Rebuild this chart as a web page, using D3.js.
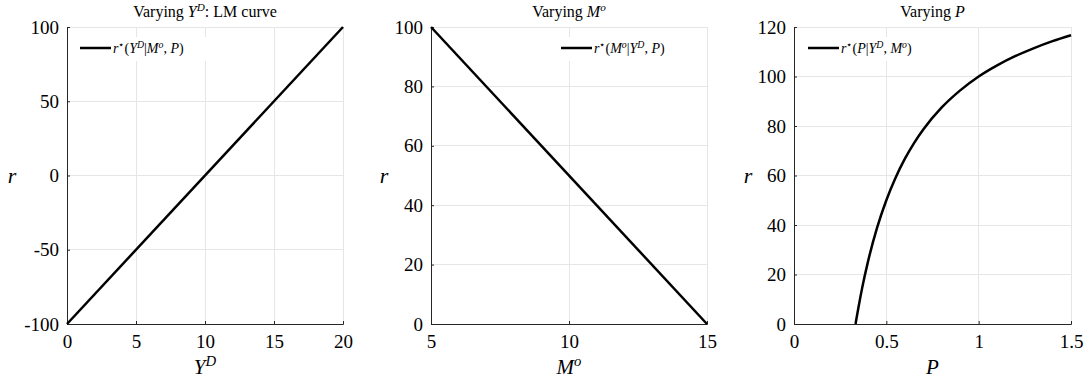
<!DOCTYPE html>
<html><head><meta charset="utf-8">
<script src="https://cdn.jsdelivr.net/npm/d3@7"></script>
<style>
body{margin:0;background:#fff;}
svg{display:block;}
</style></head>
<body><svg id="c" width="1086" height="381" font-family="Liberation Serif"></svg>
<script>
// ---- data ----
const yd = [0, 20];
const rYD = [-100, 100];
const mo = [5, 15];
const rMO = [100, 0];
const pVals = [0.3333, 0.34, 0.35, 0.37, 0.4, 0.45, 0.5, 0.55, 0.6, 0.65, 0.7, 0.8, 0.9, 1.0, 1.1, 1.2, 1.3, 1.4, 1.5];
const rP   = [0, 2.9, 7.1, 14.9, 25, 38.9, 50, 59.1, 66.7, 73.1, 78.6, 87.5, 94.4, 100, 104.5, 108.3, 111.5, 114.3, 116.7];
const xTicks1 = [0, 5, 10, 15, 20];
const yTicks1 = [-100, -50, 0, 50, 100];
const xTicks2 = [5, 10, 15];
const yTicks2 = [0, 20, 40, 60, 80, 100];
const xTicks3 = [0, 0.5, 1, 1.5];
const yTicks3 = [0, 20, 40, 60, 80, 100, 120];

const FONT = "Liberation Serif";
const svg = d3.select("#c");
const plotTop = 27, plotBottom = 324;

function rich(sel, parts, size) {
  sel.attr("font-family", FONT).attr("font-size", size).attr("fill", "#000");
  parts.forEach(([t, k]) => {
    const ts = sel.append("tspan").text(t);
    if (k === 'i' || k === 'sup') ts.attr("font-style", "italic");
    if (k === 'sup' || k === 'supn') {
      ts.attr("font-size", size * 0.7).attr("baseline-shift", "super");
    }
  });
}

function panel(cfg) {
  const x = d3.scaleLinear().domain(cfg.xd).range([cfg.x0, cfg.x1]);
  const y = d3.scaleLinear().domain(cfg.yd).range([plotBottom, plotTop]);
  const g = svg.append("g");
  g.selectAll(".gx").data(cfg.xt).enter().append("line")
    .attr("x1", d => x(d)).attr("x2", d => x(d)).attr("y1", plotTop).attr("y2", plotBottom)
    .attr("stroke", "#e6e6e6").attr("stroke-width", 1).attr("shape-rendering","crispEdges");
  g.selectAll(".gy").data(cfg.yt).enter().append("line")
    .attr("y1", d => y(d)).attr("y2", d => y(d)).attr("x1", cfg.x0).attr("x2", cfg.x1)
    .attr("stroke", "#e6e6e6").attr("stroke-width", 1).attr("shape-rendering","crispEdges");
  const ax = g.append("g").attr("transform", `translate(0,${plotBottom})`)
    .call(d3.axisBottom(x).tickValues(cfg.xt).tickSize(-3).tickPadding(9).tickFormat(d => String(d)));
  const ay = g.append("g").attr("transform", `translate(${cfg.x0},0)`)
    .call(d3.axisLeft(y).tickValues(cfg.yt).tickSize(-3).tickPadding(8).tickFormat(d => String(d)));
  [ax, ay].forEach(a => {
    a.attr("font-family", FONT).attr("font-size", 19);
    a.select(".domain").attr("stroke", "#262626").attr("stroke-width", 1);
    a.selectAll(".tick line").attr("stroke", "#262626");
    a.selectAll(".tick text").attr("font-family", FONT).attr("font-size", 19).attr("fill", "#000");
  });
  ax.selectAll(".tick text").attr("dy", "0.8em");
  g.append("rect").attr("x", cfg.lx - 6).attr("y", plotTop + 10).attr("width", cfg.lw).attr("height", 24).attr("fill", "#fff");
  const line = d3.line().x(d => x(d[0])).y(d => y(d[1])).curve(d3.curveMonotoneX);
  g.append("path").datum(cfg.xs.map((v, i) => [v, cfg.ys[i]]))
    .attr("d", line).attr("fill", "none").attr("stroke", "#000").attr("stroke-width", 2.5);
  g.append("line").attr("x1", cfg.lx).attr("x2", cfg.lx + 31).attr("y1", 48).attr("y2", 48)
    .attr("stroke", "#000").attr("stroke-width", 2.5);
  const lt = g.append("text").attr("x", cfg.lx + 33).attr("y", 53);
  rich(lt, cfg.leg, 14);
  const tt = g.append("text").attr("x", (cfg.x0 + cfg.x1) / 2).attr("y", 17).attr("text-anchor", "middle");
  rich(tt, cfg.title, 16);
  const xl = g.append("text").attr("x", (cfg.x0 + cfg.x1) / 2).attr("y", 374).attr("text-anchor", "middle");
  rich(xl, cfg.xl, 21);
  const yl = g.append("text").attr("x", cfg.ylX).attr("y", 183).attr("text-anchor", "middle");
  rich(yl, [["r", "i"]], 22);
}

panel({xd: yd, yd: [-100, 100], x0: 67, x1: 343, xt: xTicks1, yt: yTicks1, xs: yd, ys: rYD,
  lx: 80, lw: 145,
  leg: [["r", "i"], ["⋆", "supn"], ["(", "n"], ["Y", "i"], ["D", "sup"], ["|", "n"], ["M", "i"], ["o", "sup"], [", ", "n"], ["P", "i"], [")", "n"]],
  title: [["Varying ", "n"], ["Y", "i"], ["D", "sup"], [": LM curve", "n"]],
  xl: [["Y", "i"], ["D", "sup"]], ylX: 12});
panel({xd: mo, yd: [0, 100], x0: 431, x1: 707, xt: xTicks2, yt: yTicks2, xs: mo, ys: rMO,
  lx: 561, lw: 148,
  leg: [["r", "i"], ["⋆", "supn"], ["(", "n"], ["M", "i"], ["o", "sup"], ["|", "n"], ["Y", "i"], ["D", "sup"], [", ", "n"], ["P", "i"], [")", "n"]],
  title: [["Varying ", "n"], ["M", "i"], ["o", "sup"]],
  xl: [["M", "i"], ["o", "sup"]], ylX: 384});
panel({xd: [0, 1.5], yd: [0, 120], x0: 794, x1: 1071, xt: xTicks3, yt: yTicks3, xs: pVals, ys: rP,
  lx: 808, lw: 142,
  leg: [["r", "i"], ["⋆", "supn"], ["(", "n"], ["P", "i"], ["|", "n"], ["Y", "i"], ["D", "sup"], [", ", "n"], ["M", "i"], ["o", "sup"], [")", "n"]],
  title: [["Varying ", "n"], ["P", "i"]],
  xl: [["P", "i"]], ylX: 748});
</script></body></html>
